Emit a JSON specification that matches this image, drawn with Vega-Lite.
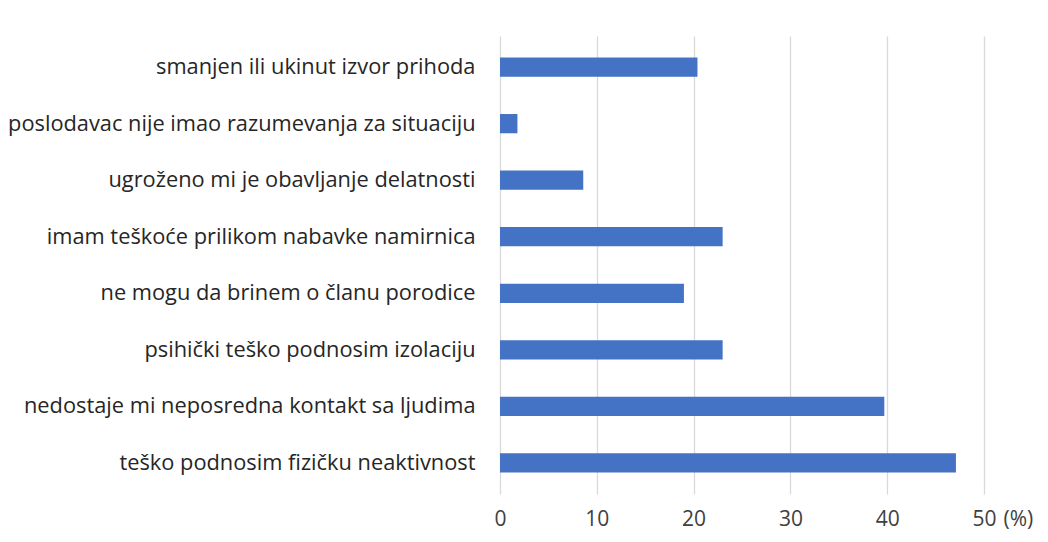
{
  "$schema": "https://vega.github.io/schema/vega-lite/v6.json",
  "width": 484,
  "height": 458,
  "autosize": "none",
  "padding": {"left": 500, "top": 36, "right": 64, "bottom": 48},
  "background": "white",
  "config": {"view": {"stroke": null}, "font": "Open Sans"},
  "data": {"values": [
    {"cat": "smanjen ili ukinut izvor prihoda", "v": 20.4},
    {"cat": "poslodavac nije imao razumevanja za situaciju", "v": 1.8},
    {"cat": "ugroženo mi je obavljanje delatnosti", "v": 8.6},
    {"cat": "imam teškoće prilikom nabavke namirnica", "v": 23.0},
    {"cat": "ne mogu da brinem o članu porodice", "v": 19.0},
    {"cat": "psihički teško podnosim izolaciju", "v": 23.0},
    {"cat": "nedostaje mi neposredna kontakt sa ljudima", "v": 39.7},
    {"cat": "teško podnosim fizičku neaktivnost", "v": 47.1}
  ]},
  "mark": {"type": "bar", "color": "#4472C4"},
  "encoding": {
    "y": {"field": "cat", "type": "nominal", "sort": null,
      "scale": {"paddingInner": 0.66, "paddingOuter": 0.38},
      "axis": {"title": null, "domain": false, "ticks": false, "labelPadding": 25, "labelFontSize": 21.8, "labelColor": "#262626", "labelLimit": 600, "labelFont": "Open Sans"}},
    "x": {"field": "v", "type": "quantitative",
      "scale": {"domain": [0, 50]},
      "axis": {"title": "(%)", "titleFontWeight": "normal", "titleFontSize": 21, "titleColor": "#404040", "titleX": 503, "titleY": 14, "titleAlign": "left", "titleBaseline": "top",
        "values": [0, 10, 20, 30, 40, 50], "domain": false, "ticks": false, "labelPadding": 14, "labelFontSize": 21, "labelColor": "#404040", "labelFont": "Open Sans",
        "gridColor": "#d9d9d9", "gridWidth": 1.3, "labelFlush": false}}
  }
}
